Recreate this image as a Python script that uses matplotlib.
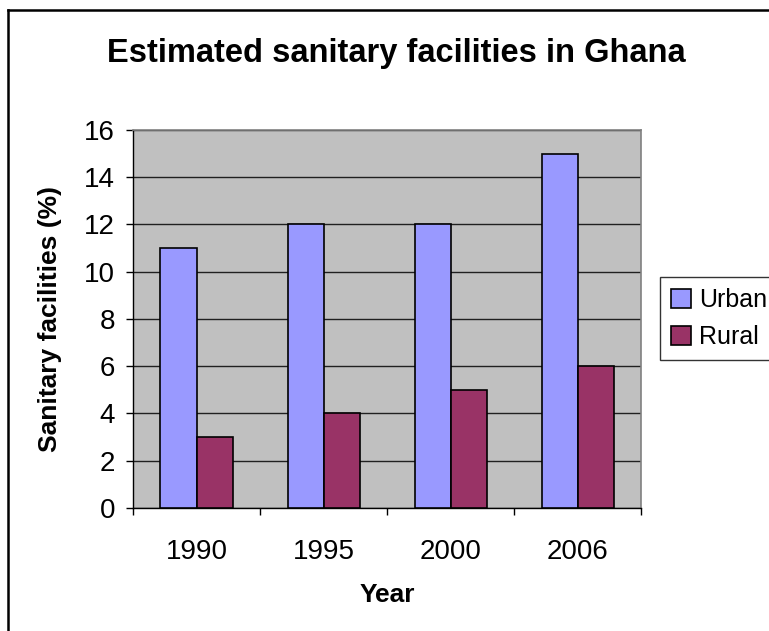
import numpy as np
from matplotlib import pyplot as plt
from matplotlib.lines import Line2D

years = ['1990', '1995', '2000', '2006']
urban = [11, 12, 12, 15]
rural = [3, 4, 5, 6]

plt.rcParams['font.family'] = ['Liberation Sans', 'DejaVu Sans']

fig = plt.figure(figsize=(7.69, 6.31), dpi=100)
ax = fig.add_axes([0.173, 0.195, 0.661, 0.599])
ax.set_facecolor('#C0C0C0')

x = np.arange(len(years))
w = 0.284
ax.bar(x - w / 2, urban, w, color='#9999FF', edgecolor='black', linewidth=1.2, label='Urban', zorder=3)
ax.bar(x + w / 2, rural, w, color='#993366', edgecolor='black', linewidth=1.2, label='Rural', zorder=3)

ax.set_xlim(-0.5, len(years) - 0.5)
ax.set_ylim(0, 16)
ax.set_yticks(range(0, 17, 2))
ax.yaxis.grid(True, color='#202020', linewidth=1, zorder=1)
ax.set_axisbelow(True)

ax.set_xticks(x)
ax.set_xticklabels(years)
ax.set_xticks(np.arange(-0.5, len(years), 1), minor=True)
ax.tick_params(axis='x', which='major', length=0, pad=22, labelsize=20)
ax.tick_params(axis='x', which='minor', length=5, width=1, direction='out', color='black')
ax.tick_params(axis='y', length=5, width=1, direction='out', pad=8, labelsize=20)

for s in ['top', 'right']:
    ax.spines[s].set_color('#808080')
    ax.spines[s].set_linewidth(1.2)
for s in ['left', 'bottom']:
    ax.spines[s].set_color('black')
    ax.spines[s].set_linewidth(1)

ax.set_xlabel('Year', fontsize=19, fontweight='bold', labelpad=13)
ax.set_ylabel('Sanitary facilities (%)', fontsize=19, fontweight='bold', labelpad=16)

fig.text(0.515, 0.915, 'Estimated sanitary facilities in Ghana', ha='center', va='center',
         fontsize=23.5, fontweight='bold')

leg = fig.legend(loc='upper left', bbox_to_anchor=(660 / 769, 1 - 277 / 631), fontsize=18,
                 frameon=True, fancybox=False, edgecolor='black', handlelength=0.8,
                 handleheight=0.8, handletextpad=0.3, borderpad=0.45, labelspacing=0.5,
                 borderaxespad=0)
leg.get_frame().set_linewidth(1)

# outer border (left and top only visible)
fig.add_artist(Line2D([8 / 769, 8 / 769], [0, 1 - 10 / 631], color='black', linewidth=1.8))
fig.add_artist(Line2D([8 / 769, 1], [1 - 10 / 631, 1 - 10 / 631], color='black', linewidth=1.8))

fig.savefig('out.png', dpi=100)
